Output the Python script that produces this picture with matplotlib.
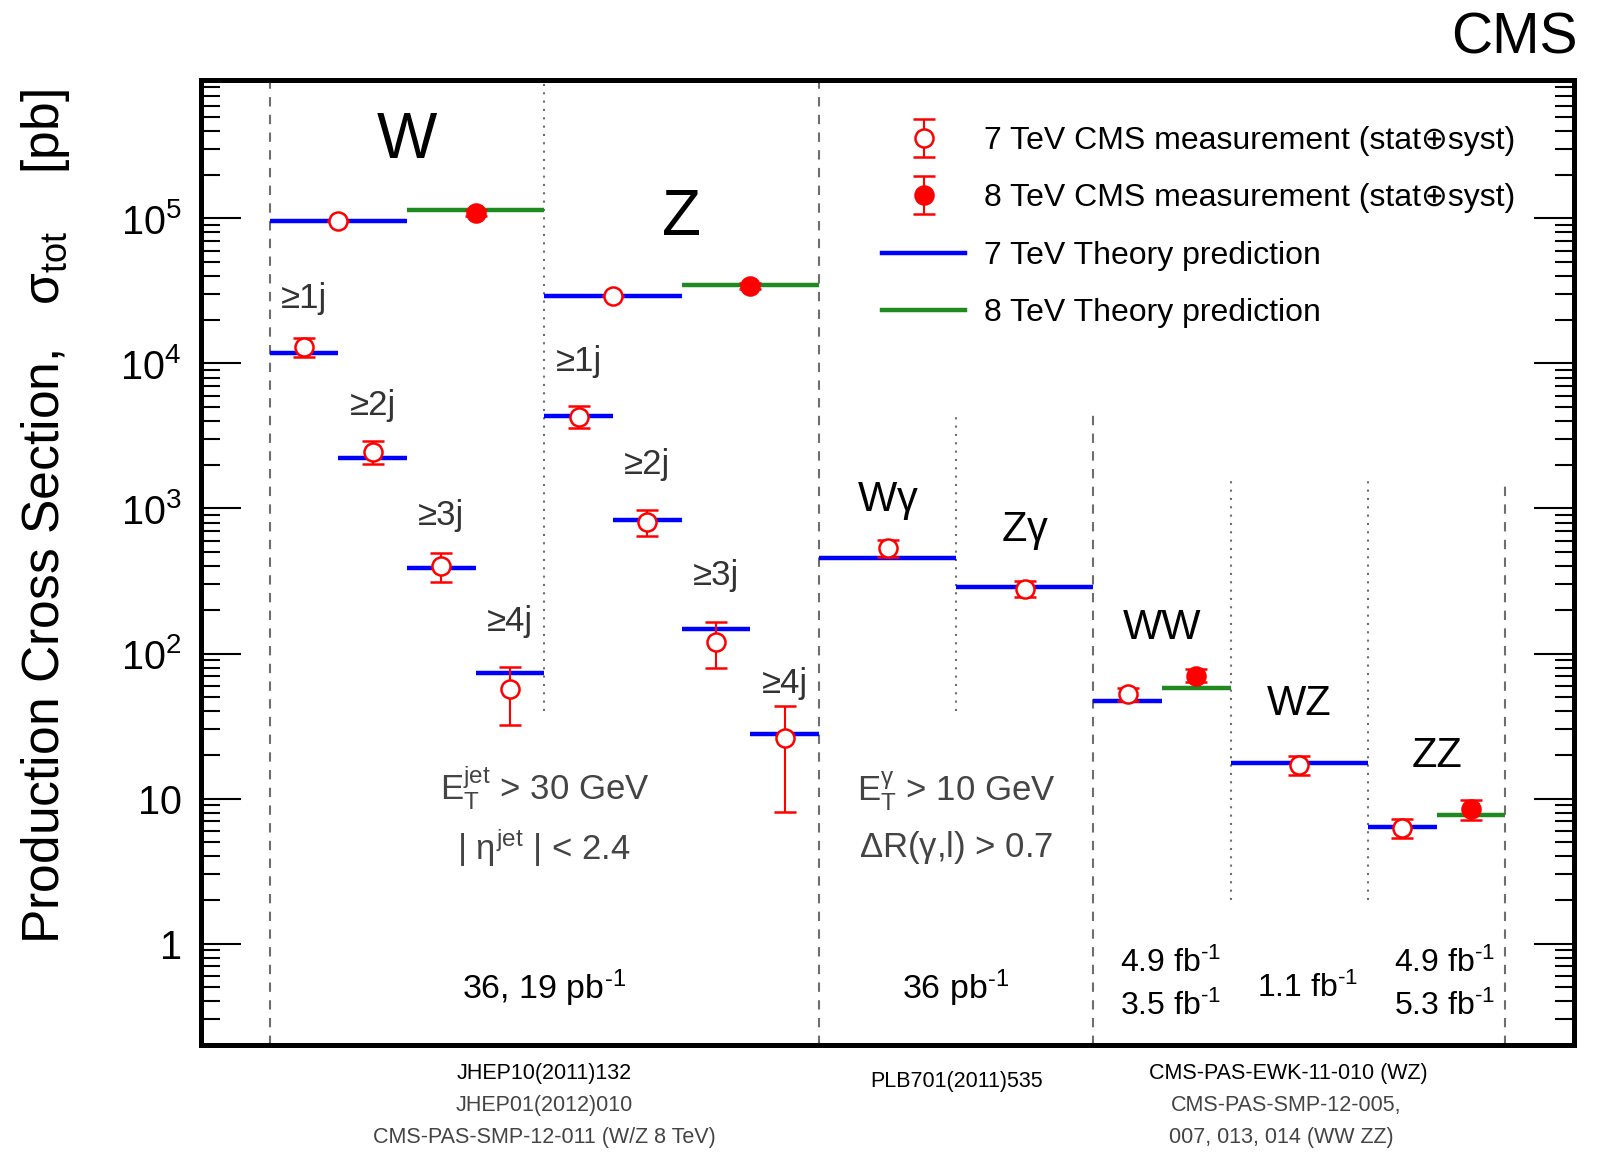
import numpy as np
import matplotlib
matplotlib.use('Agg')
import matplotlib.pyplot as plt
from matplotlib.lines import Line2D
from matplotlib.ticker import LogLocator, NullFormatter
from matplotlib.container import ErrorbarContainer
from matplotlib.legend_handler import HandlerErrorbar

plt.rcParams['font.family'] = ['Liberation Sans', 'DejaVu Sans']
plt.rcParams['mathtext.fontset'] = 'custom'
plt.rcParams['mathtext.rm'] = 'Liberation Sans'
plt.rcParams['mathtext.it'] = 'Liberation Sans'
plt.rcParams['mathtext.bf'] = 'Liberation Sans:bold'

# ---- data (x = slot position on the horizontal axis, y = cross section in pb)
# 7 TeV theory predictions: bin start, bin end, value
th7_lo = [0.5, 0.5, 1.0, 1.5, 2.0, 2.5, 2.5, 3.0, 3.5, 4.0, 4.5, 5.5, 6.5, 7.5, 8.5]
th7_hi = [1.5, 1.0, 1.5, 2.0, 2.5, 3.5, 3.0, 3.5, 4.0, 4.5, 5.5, 6.5, 7.0, 8.5, 9.0]
th7_val = [9.6e4, 1.18e4, 2.22e3, 391, 73, 2.94e4, 4.33e3, 836, 148, 27.8, 459, 286, 47.3, 17.7, 6.33]

# 8 TeV theory predictions
th8_lo = [1.5, 3.5, 7.0, 9.0]
th8_hi = [2.5, 4.5, 7.5, 9.5]
th8_val = [1.15e5, 3.47e4, 57.8, 7.74]

# 7 TeV CMS measurements
m7_x = [1.0, 0.75, 1.25, 1.75, 2.25, 3.0, 2.75, 3.25, 3.75, 4.25, 5.0, 6.0, 6.75, 8.0, 8.75]
m7_val = [9.6e4, 1.29e4, 2.47e3, 404, 57, 2.94e4, 4.3e3, 813, 121, 26.1, 533, 278, 52.8, 17.1, 6.27]
m7_up = [0, 2.0e3, 470, 87, 23.4, 0, 750, 167, 44, 17.2, 74, 40, 5.0, 2.7, 0.92]
m7_dn = [0, 1.9e3, 450, 93, 24.8, 0, 720, 164, 41.5, 18.0, 73, 33, 5.5, 2.6, 0.92]

# 8 TeV CMS measurements
m8_x = [2.0, 4.0, 7.25, 9.25]
m8_val = [1.09e5, 3.41e4, 70.3, 8.48]
m8_up = [5e3, 1.6e3, 7.9, 1.24]
m8_dn = [5e3, 1.6e3, 7.1, 1.33]

# separators between the processes
sep_x = [0.5, 2.5, 4.5, 5.5, 6.5, 7.5, 8.5, 9.5]
sep_dashed = [True, False, True, False, True, False, False, True]
sep_lo = [0.2, 40, 0.2, 40, 0.2, 2.0, 2.0, 0.2]
sep_hi = [9e5, 9e5, 9e5, 4.5e3, 4.5e3, 1.7e3, 1.7e3, 1.6e3]

# process labels
proc_text = ['W', 'Z', r'W$\gamma$', r'Z$\gamma$', 'WW', 'WZ', 'ZZ']
proc_x = [1.5, 3.5, 5.0, 6.0, 7.0, 8.0, 9.0]
proc_y = [3.4e5, 1.0e5, 1.12e3, 700, 150, 44.7, 19.8]
proc_size = [46, 46, 30, 30, 30, 30, 30]

jet_text = ['≥1j', '≥2j', '≥3j', '≥4j'] * 2
jet_x = [0.75, 1.25, 1.75, 2.25, 2.75, 3.25, 3.75, 4.25]
jet_y = [2.8e4, 5.1e3, 890, 166, 1.03e4, 2.0e3, 345, 62]

cut_text = [r'E$_{\rm T}^{\rm jet}$ > 30 GeV', r'| $\eta^{\rm jet}$ | < 2.4',
            r'E$_{\rm T}^{\gamma}$ > 10 GeV', r'$\Delta$R($\gamma$,l) > 0.7']
cut_x = [2.5, 2.5, 5.5, 5.5]
cut_y = [11.8, 4.6, 11.3, 4.6]

lumi_text = [r'36, 19 pb$^{\text{-1}}$', r'36 pb$^{\text{-1}}$', r'4.9 fb$^{\text{-1}}$',
             r'3.5 fb$^{\text{-1}}$', r'1.1 fb$^{\text{-1}}$', r'4.9 fb$^{\text{-1}}$',
             r'5.3 fb$^{\text{-1}}$']
lumi_x = [2.5, 5.5, 7.06, 7.06, 8.06, 9.06, 9.06]
lumi_y = [0.49, 0.49, 0.735, 0.371, 0.49, 0.735, 0.371]

ref_text = ['JHEP10(2011)132', 'JHEP01(2012)010', 'CMS-PAS-SMP-12-011 (W/Z 8 TeV)',
            'PLB701(2011)535',
            'CMS-PAS-EWK-11-010 (WZ)', 'CMS-PAS-SMP-12-005,', '007, 013, 014 (WW ZZ)']
ref_x = [2.5, 2.5, 2.5, 5.5, 7.92, 7.9, 7.87]
ref_row = [0, 1, 2, 0.25, 0, 1, 2]
ref_color = ['black', '#444444', '#444444', 'black', 'black', '#444444', '#444444']

# ---- figure
W, H = 1607, 1154
fig = plt.figure(figsize=(W / 100, H / 100), dpi=100)
ax = fig.add_axes([201 / W, 1 - 1045 / H, (1574 - 201) / W, (1045 - 80) / H])
ax.set_yscale('log')
ax.set_xlim(0, 10)
ax.set_ylim(0.2, 9e5)

for s in ax.spines.values():
    s.set_linewidth(3.6)

ax.set_xticks([])
ax.set_yticks([1, 10, 100, 1e3, 1e4, 1e5],
              ['1', '10', r'10$^{\rm 2}$', r'10$^{\rm 3}$', r'10$^{\rm 4}$', r'10$^{\rm 5}$'])
ax.yaxis.set_minor_locator(LogLocator(base=10, subs=np.arange(2, 10), numticks=20))
ax.yaxis.set_minor_formatter(NullFormatter())
ax.tick_params(axis='y', which='both', direction='in', left=True, right=True, width=1.5)
ax.tick_params(axis='y', which='major', length=29, labelsize=28.5, pad=14)
ax.tick_params(axis='y', which='minor', length=14)

# separators
for x, dashed, lo, hi in zip(sep_x, sep_dashed, sep_lo, sep_hi):
    ls = (0, (4.5, 4)) if dashed else (0, (1, 3))
    ax.vlines(x, lo, hi, colors='#6e6e6e', linestyles=[ls], linewidth=1.5, zorder=1)

# theory
ax.hlines(th7_val, th7_lo, th7_hi, colors='#0000ff', linewidth=3.2, zorder=2)
ax.hlines(th8_val, th8_lo, th8_hi, colors='#1f8a1f', linewidth=3.2, zorder=2)

# measurements
eb7 = ax.errorbar(m7_x, m7_val, yerr=[m7_dn, m7_up], fmt='o', ms=13, mfc='white', mec='red',
                  mew=1.8, ecolor='red', elinewidth=1.5, capsize=8, capthick=1.5, zorder=4)
eb8 = ax.errorbar(m8_x, m8_val, yerr=[m8_dn, m8_up], fmt='o', ms=13, mfc='red', mec='red',
                  mew=1.8, ecolor='red', elinewidth=1.5, capsize=8, capthick=1.5, zorder=4)

# labels in the plot
for t, x, y, fs in zip(proc_text, proc_x, proc_y, proc_size):
    ax.text(x, y, t, fontsize=fs, ha='center', va='center', color='black')
for t, x, y in zip(jet_text, jet_x, jet_y):
    ax.text(x, y, t, fontsize=25, ha='center', va='center', color='#333333')
for t, x, y in zip(cut_text, cut_x, cut_y):
    ax.text(x, y, t, fontsize=25, ha='center', va='center', color='#444444')
for i, (t, x, y) in enumerate(zip(lumi_text, lumi_x, lumi_y)):
    ax.text(x, y, t, fontsize=24.5 if i < 2 else 23, ha='center', va='center', color='black')

# references below the frame
for t, x, r, c in zip(ref_text, ref_x, ref_row, ref_color):
    yf = 1 - (1073 + 32.5 * r) / H
    xf = (201 + x / 10 * 1373) / W
    fig.text(xf, yf, t, fontsize=15.5, ha='center', va='center', color=c)

# legend
th7_h = Line2D([], [], color='#0000ff', lw=3.2)
th8_h = Line2D([], [], color='#1f8a1f', lw=3.2)
ax.legend([eb7, eb8, th7_h, th8_h],
          ['7 TeV CMS measurement (stat⊕syst)', '8 TeV CMS measurement (stat⊕syst)',
           '7 TeV Theory prediction', '8 TeV Theory prediction'],
          loc='upper left', bbox_to_anchor=(0.4845, 0.969), frameon=False, fontsize=23,
          handlelength=2.6, handletextpad=0.6, labelspacing=0.86, borderpad=0,
          handler_map={ErrorbarContainer: HandlerErrorbar(yerr_size=0.6)})

fig.text(0.982, 1 - 39 / H, 'CMS', fontsize=41, ha='right', va='center')
fig.text(46 / W, 1 - 944 / H, r'Production Cross Section,   $\sigma_{\rm tot}$    [pb]',
         fontsize=37.2, rotation=90, ha='center', va='bottom')

fig.savefig('out.png', dpi=100)
